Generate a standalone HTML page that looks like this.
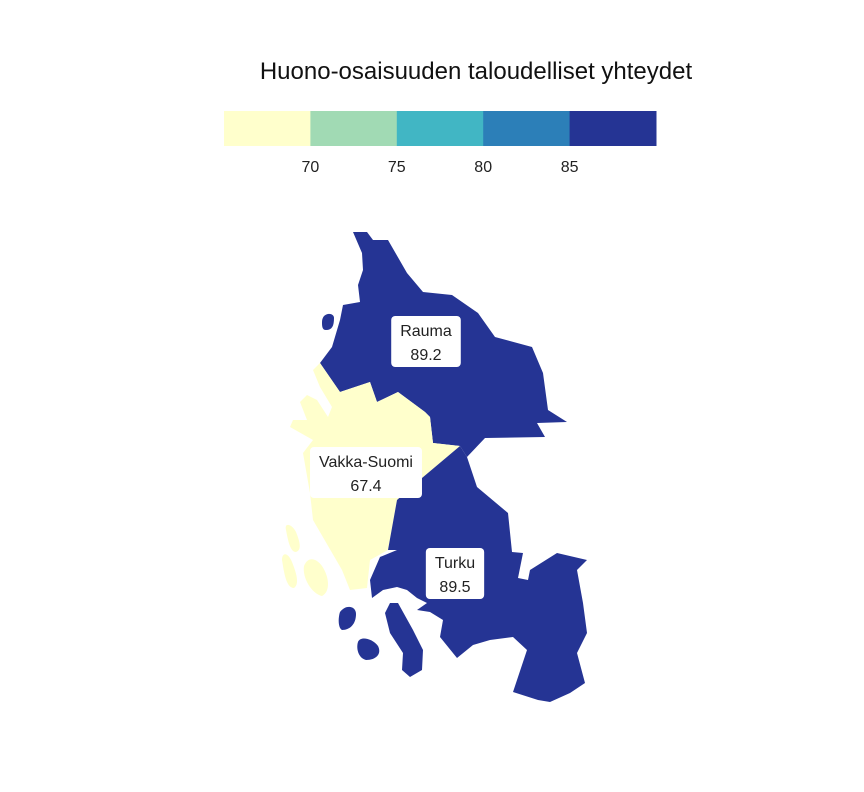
<!DOCTYPE html>
<html><head><meta charset="utf-8"><style>
html,body{margin:0;padding:0;background:#fff;}
svg{display:block;font-family:"Liberation Sans",sans-serif;}
</style></head><body>
<svg id="chart" width="864" height="792" viewBox="0 0 864 792">
<text x="476" y="79" text-anchor="middle" font-size="24" fill="#111">Huono-osaisuuden taloudelliset yhteydet</text>
<g id="legend"></g>
<g id="map"></g>
<g id="labels"></g>
</svg>
<script>
const regions = ["Rauma", "Vakka-Suomi", "Turku"];
const values = [89.2, 67.4, 89.5];
const breaks = [70, 75, 80, 85];
const tickLabels = ["70", "75", "80", "85"];
const colors = ["#ffffcc", "#a1dab4", "#41b6c4", "#2c7fb8", "#253494"];

const NS = "http://www.w3.org/2000/svg";
function mk(tag, attrs, parent){const e=document.createElementNS(NS,tag);for(const k in attrs)e.setAttribute(k,attrs[k]);parent.appendChild(e);return e;}
function colorFor(v){let i=0;while(i<breaks.length && v>=breaks[i])i++;return colors[i];}

const lg=document.getElementById('legend');
const lx0=224, lw=432, ly=111, lh=35, segW=lw/colors.length;
colors.forEach((c,i)=>{
  const r=mk('rect',{x:lx0+i*segW,y:ly,width:segW+0.5,height:lh,fill:c},lg);
  
  
});
breaks.forEach((b,i)=>{
  const t=mk('text',{x:lx0+(i+1)*segW,y:172,'text-anchor':'middle','font-size':16,fill:'#222'},lg);
  t.textContent=tickLabels[i];
  
  
});

const shapes = {
 "Rauma": [
  "M353,232 L367,232 L373,240 L388,240 L407,273 L423,292 L452,295 L478,313 L495,337 L532,347 L543,373 L548,410 L567,422 L537,423 L545,437 L485,438 L467,457 L460,446 L433,443 L430,417 L425,412 L398,392 L377,402 L370,382 L340,392 L320,363 L332,347 L340,320 L343,305 L360,302 L358,285 L363,270 L362,253 Z",
  "M322,322 C322,312 334,312 334,318 C334,326 332,330 326,330 C322,330 322,326 322,322 Z"
 ],
 "Vakka-Suomi": [
  "M320,363 L340,392 L370,382 L377,402 L398,392 L425,412 L430,417 L433,443 L460,446 L422,478 L397,500 L388,550 L370,560 L367,588 L350,590 L342,570 L313,520 L310,493 L303,453 L313,440 L290,427 L293,420 L307,420 L300,402 L307,395 L317,400 L328,417 L332,407 L320,387 L313,370 Z",
  "M286,530 C284,522 292,524 296,532 C300,542 302,550 296,552 C290,552 288,540 286,530 Z",
  "M282,560 C282,552 288,552 292,562 C296,572 300,584 294,588 C286,588 284,572 282,560 Z",
  "M304,566 C308,556 316,558 322,566 C330,578 330,592 322,596 C312,594 302,578 304,566 Z"
 ],
 "Turku": [
  "M460,446 L467,457 L477,487 L508,513 L512,552 L523,553 L518,578 L528,580 L530,570 L557,553 L587,560 L577,570 L583,603 L587,633 L577,653 L585,683 L570,693 L550,702 L538,700 L513,692 L527,650 L513,637 L490,640 L473,645 L457,658 L440,637 L443,620 L430,612 L417,610 L427,603 L417,598 L407,590 L397,587 L383,590 L372,598 L370,580 L380,557 L397,550 L388,550 L397,500 L422,478 Z",
  "M340,612 C346,604 356,606 356,614 C356,624 350,630 342,630 C338,628 338,618 340,612 Z",
  "M358,642 C360,636 372,638 378,646 C382,654 376,660 366,660 C358,658 356,648 358,642 Z",
  "M390,603 L398,603 L413,630 L423,650 L422,670 L410,677 L402,670 L403,653 L390,633 L385,613 Z"
 ]
};

const mg=document.getElementById('map');
regions.forEach((r,i)=>{
  const g=mk('g',{fill:colorFor(values[i])},mg);
  
  
  shapes[r].forEach(d=>mk('path',{d:d},g));
});

const labelCenters = {"Rauma":[426,342],"Vakka-Suomi":[366,473],"Turku":[455,574]};
const lbg=document.getElementById('labels');
regions.forEach((r,i)=>{
  const [cx,cy]=labelCenters[r];
  const g=mk('g',{},lbg);
  
  
  const t1=mk('text',{x:cx,y:cy-6,'text-anchor':'middle','font-size':16,fill:'#222'},g);
  t1.textContent=r;
  const t2=mk('text',{x:cx,y:cy+18,'text-anchor':'middle','font-size':16,fill:'#222'},g);
  t2.textContent=values[i].toFixed(1);
  const w=Math.max(t1.getComputedTextLength(),t2.getComputedTextLength())+18;
  const rect=mk('rect',{x:cx-w/2,y:cy-26,width:w,height:51,rx:4,fill:'#fff'},g);
  g.insertBefore(rect,t1);
});
</script>
</body></html>
